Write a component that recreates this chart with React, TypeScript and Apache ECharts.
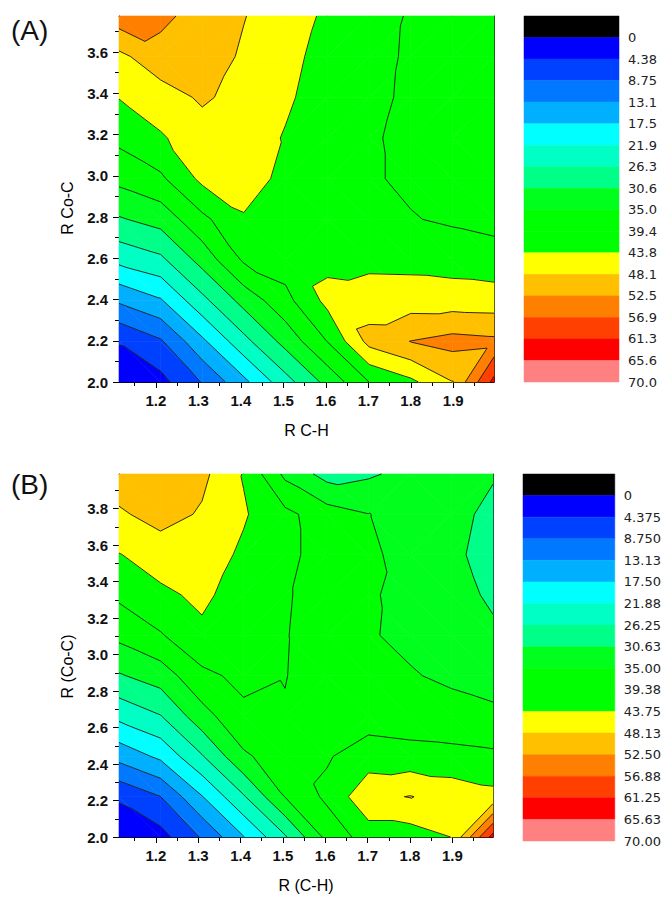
import React, { useEffect, useRef } from "react";
import * as echarts from "echarts";

// ---------- contour levels and palette (from the colour bars) ----------
const levels = [0, 4.375, 8.75, 13.125, 17.5, 21.875, 26.25, 30.625, 35, 39.375, 43.75, 48.125, 52.5, 56.875, 61.25, 65.625, 70];
// band 0 = below 0, band k = levels[k-1]..levels[k]
const bandColors = [
  "#000000", "#0000ff", "#0040ff", "#0078ff", "#00b0ff", "#00ffff", "#00ffc4", "#00ff88",
  "#00ff1c", "#00ff00", "#00ff00", "#ffff00", "#ffc000", "#ff8000", "#ff4000", "#ff0000", "#ff8080",
];
const legendLabelsA = ["0", "4.38", "8.75", "13.1", "17.5", "21.9", "26.3", "30.6", "35.0", "39.4", "43.8", "48.1", "52.5", "56.9", "61.3", "65.6", "70.0"];
const legendLabelsB = ["0", "4.375", "8.750", "13.13", "17.50", "21.88", "26.25", "30.63", "35.00", "39.38", "43.75", "48.13", "52.50", "56.88", "61.25", "65.63", "70.00"];

// ---------- axes ----------
const xMin = 1.113;
const xMax = 1.996;
const xTicksMajor = [1.2, 1.3, 1.4, 1.5, 1.6, 1.7, 1.8, 1.9];
const xTicksMinor = [1.15, 1.25, 1.35, 1.45, 1.55, 1.65, 1.75, 1.85, 1.95];
const yMaxA = 3.775;
const yMaxB = 3.99;
const yTicksMajorA = [2.0, 2.2, 2.4, 2.6, 2.8, 3.0, 3.2, 3.4, 3.6];
const yTicksMinorA = [2.1, 2.3, 2.5, 2.7, 2.9, 3.1, 3.3, 3.5, 3.7];
const yTicksMajorB = [2.0, 2.2, 2.4, 2.6, 2.8, 3.0, 3.2, 3.4, 3.6, 3.8];
const yTicksMinorB = [2.1, 2.3, 2.5, 2.7, 2.9, 3.1, 3.3, 3.5, 3.7, 3.9];

// ---------- data grids ----------
const xGrid = [1.113, 1.211, 1.309, 1.407, 1.505, 1.604, 1.702, 1.8, 1.898, 1.996];
const yGridA = [2.0, 2.197, 2.394, 2.592, 2.789, 2.986, 3.183, 3.381, 3.578, 3.775];
const yGridB = [2.0, 2.221, 2.442, 2.663, 2.884, 3.106, 3.327, 3.548, 3.769, 3.99];

// rows from bottom (R Co-C = 2.0) to top; columns follow xGrid
const valuesA = [
  [2.6, 3.0, 9.0, 16.4, 24.6, 32.0, 39.4, 42.8, 48.0, 62.5],
  [4.55, 8.2, 16.6, 24.9, 32.1, 39.5, 49.5, 52.6, 54.0, 53.4],
  [13.7, 17.0, 25.0, 32.1, 38.0, 45.0, 46.2, 46.1, 46.0, 45.8],
  [23.0, 25.3, 32.2, 40.0, 41.5, 42.8, 42.5, 42.4, 41.9, 41.3],
  [30.2, 32.3, 38.3, 43.3, 42.0, 41.5, 40.5, 39.6, 38.8, 38.0],
  [36.2, 38.6, 44.8, 46.0, 42.5, 40.8, 39.8, 38.7, 37.8, 37.5],
  [40.4, 43.3, 46.0, 45.5, 43.5, 41.5, 39.8, 38.5, 37.8, 37.5],
  [43.9, 46.0, 48.8, 46.5, 44.3, 42.0, 40.2, 38.8, 38.0, 37.8],
  [47.0, 51.0, 50.5, 47.5, 44.8, 42.5, 40.5, 38.9, 38.3, 38.0],
  [55.0, 53.5, 50.8, 48.3, 45.6, 43.1, 41.1, 39.0, 38.5, 38.2],
];
const valuesB = [
  [1.0, 2.8, 9.2, 17.3, 25.75, 36.2, 41.5, 41.5, 43.8, 63.0],
  [5.0, 8.7, 17.3, 25.8, 35.1, 40.3, 47.0, 48.3, 46.5, 45.0],
  [14.6, 18.4, 25.9, 34.3, 37.4, 39.0, 41.5, 41.0, 40.7, 40.2],
  [23.0, 26.06, 33.35, 38.4, 39.1, 37.8, 37.5, 37.0, 36.5, 35.8],
  [30.2, 32.7, 38.3, 40.5, 39.5, 37.5, 36.5, 35.3, 34.3, 33.5],
  [36.1, 39.0, 43.0, 41.0, 39.6, 37.3, 35.3, 34.2, 33.0, 31.5],
  [40.2, 43.0, 44.5, 42.0, 39.8, 37.5, 35.4, 34.0, 32.5, 29.8],
  [43.6, 45.5, 46.0, 43.0, 40.5, 37.5, 35.8, 33.5, 31.5, 29.0],
  [47.4, 50.0, 47.6, 44.2, 40.5, 37.0, 35.1, 33.5, 32.0, 29.5],
  [51.0, 50.5, 49.2, 43.5, 34.0, 29.0, 30.0, 32.0, 32.0, 31.0],
];

// ---------- contour rendering helpers ----------
type P = [number, number, number];

function clipPoly(poly: P[], t: number, keepAbove: boolean): P[] {
  const out: P[] = [];
  const n = poly.length;
  for (let k = 0; k < n; k++) {
    const a = poly[k];
    const b = poly[(k + 1) % n];
    const ina = keepAbove ? a[2] >= t : a[2] <= t;
    const inb = keepAbove ? b[2] >= t : b[2] <= t;
    if (ina) out.push(a);
    if (ina !== inb) {
      const f = (t - a[2]) / (b[2] - a[2]);
      out.push([a[0] + f * (b[0] - a[0]), a[1] + f * (b[1] - a[1]), t]);
    }
  }
  return out;
}

// split each cell along the diagonal with the smaller change of value
function cellTriangles(api: any, xs: number[], ys: number[], vals: number[][], i: number, j: number): P[][] {
  const c = (ii: number, jj: number): P => {
    const p = api.coord([xs[ii], ys[jj]]);
    return [p[0], p[1], vals[jj][ii]];
  };
  const p00 = c(i, j);
  const p10 = c(i + 1, j);
  const p01 = c(i, j + 1);
  const p11 = c(i + 1, j + 1);
  const dSWNE = Math.abs(p00[2] - p11[2]);
  const dSENW = Math.abs(p10[2] - p01[2]);
  if (dSENW <= dSWNE) {
    return [
      [p00, p10, p01],
      [p10, p11, p01],
    ];
  }
  return [
    [p00, p10, p11],
    [p00, p11, p01],
  ];
}

function fillRender(xs: number[], ys: number[], vals: number[][]) {
  return (_params: any, api: any) => {
    const i = api.value(2);
    const j = api.value(3);
    const children: any[] = [];
    for (const tri of cellTriangles(api, xs, ys, vals, i, j)) {
      for (let b = 0; b < bandColors.length; b++) {
        let poly: P[];
        if (b === 0) {
          poly = clipPoly(tri, levels[0], false);
        } else {
          poly = clipPoly(tri, levels[b - 1], true);
          if (poly.length >= 3) poly = clipPoly(poly, levels[b], false);
        }
        if (poly.length >= 3) {
          children.push({
            type: "polygon",
            shape: { points: poly.map((p) => [p[0], p[1]]) },
            style: { fill: bandColors[b], stroke: bandColors[b], lineWidth: 0.6 },
          });
        }
      }
    }
    return { type: "group", children };
  };
}

function lineRender(xs: number[], ys: number[], vals: number[][]) {
  return (_params: any, api: any) => {
    const i = api.value(2);
    const j = api.value(3);
    const children: any[] = [];
    for (const tri of cellTriangles(api, xs, ys, vals, i, j)) {
      for (const L of levels) {
        const pts: number[][] = [];
        for (let k = 0; k < 3; k++) {
          const a = tri[k];
          const b = tri[(k + 1) % 3];
          if ((a[2] - L) * (b[2] - L) < 0) {
            const f = (L - a[2]) / (b[2] - a[2]);
            pts.push([a[0] + f * (b[0] - a[0]), a[1] + f * (b[1] - a[1])]);
          }
        }
        if (pts.length === 2) {
          children.push({
            type: "line",
            shape: { x1: pts[0][0], y1: pts[0][1], x2: pts[1][0], y2: pts[1][1] },
            style: { stroke: "#1a1a1a", lineWidth: 0.9 },
          });
        }
      }
    }
    return { type: "group", children };
  };
}

function cellsOf(xs: number[], ys: number[]) {
  const out: number[][] = [];
  for (let j = 0; j < ys.length - 1; j++) {
    for (let i = 0; i < xs.length - 1; i++) {
      out.push([xs[i], ys[j], i, j]);
    }
  }
  return out;
}

const tickFont = { fontFamily: "Liberation Sans, Arial, sans-serif", fontSize: 15, fontWeight: "bold" as const, color: "#111" };
const nameFont = { fontFamily: "Liberation Sans, Arial, sans-serif", fontSize: 16, color: "#000" };

function panelAxes(g: number, cbGrid: number, xName: string, yName: string, yMax: number, yMajor: number[], yMinor: number[], cbLabels: string[], yNameShift: number) {
  const xAxes = [
    {
      type: "value", gridIndex: g, min: xMin, max: xMax, position: "bottom",
      axisLine: { show: true, onZero: false, lineStyle: { color: "#000", width: 1 } },
      axisTick: { show: true, customValues: xTicksMajor, length: 6, lineStyle: { color: "#000" } },
      axisLabel: { customValues: xTicksMajor, formatter: (v: number) => v.toFixed(1), margin: 11, ...tickFont },
      splitLine: { show: false },
      name: xName, nameLocation: "middle", nameGap: 40, nameTextStyle: nameFont,
    },
    {
      type: "value", gridIndex: g, min: xMin, max: xMax, position: "bottom",
      axisLine: { show: false, onZero: false },
      axisTick: { show: true, customValues: xTicksMinor, length: 4, lineStyle: { color: "#000" } },
      axisLabel: { show: false },
      splitLine: { show: false },
    },
    {
      type: "value", gridIndex: g, min: xMin, max: xMax, position: "top",
      axisLine: { show: true, onZero: false, lineStyle: { color: "#222", width: 1 } },
      axisTick: { show: false }, axisLabel: { show: false }, splitLine: { show: false },
    },
    { type: "value", gridIndex: cbGrid, min: 0, max: 1, show: false },
  ];
  const yAxes = [
    {
      type: "value", gridIndex: g, min: 2.0, max: yMax, position: "left",
      axisLine: { show: true, onZero: false, lineStyle: { color: "#000", width: 1 } },
      axisTick: { show: true, customValues: yMajor, length: 6, lineStyle: { color: "#000" } },
      axisLabel: { customValues: yMajor, formatter: (v: number) => v.toFixed(1), margin: 11, ...tickFont },
      splitLine: { show: false },
      name: yName, nameLocation: "middle", nameGap: 44,
      nameTextStyle: { ...nameFont, padding: [0, yNameShift * 2, 0, 0] },
    },
    {
      type: "value", gridIndex: g, min: 2.0, max: yMax, position: "left",
      axisLine: { show: false, onZero: false },
      axisTick: { show: true, customValues: yMinor, length: 4, lineStyle: { color: "#000" } },
      axisLabel: { show: false },
      splitLine: { show: false },
    },
    {
      type: "value", gridIndex: g, min: 2.0, max: yMax, position: "right",
      axisLine: { show: true, onZero: false, lineStyle: { color: "#222", width: 1 } },
      axisTick: { show: false }, axisLabel: { show: false }, splitLine: { show: false },
    },
    {
      type: "value", gridIndex: cbGrid, min: 0, max: 17, inverse: true, position: "right",
      axisLine: { show: false }, axisTick: { show: false }, splitLine: { show: false },
      axisLabel: {
        customValues: cbLabels.map((_, k) => k + 1),
        formatter: (v: number) => cbLabels[Math.round(v) - 1] ?? "",
        margin: 9, fontFamily: "DejaVu Sans, Verdana, sans-serif", fontSize: 13, color: "#222",
      },
    },
  ];
  return { xAxes, yAxes };
}

function colorbarRender(_params: any, api: any) {
  const k = api.value(1);
  const p0 = api.coord([0, k]);
  const p1 = api.coord([1, k + 1]);
  return {
    type: "rect",
    shape: {
      x: Math.min(p0[0], p1[0]), y: Math.min(p0[1], p1[1]),
      width: Math.abs(p1[0] - p0[0]), height: Math.abs(p1[1] - p0[1]),
    },
    style: { fill: bandColors[k], stroke: bandColors[k], lineWidth: 0.5 },
  };
}

function buildOption() {
  const a = panelAxes(0, 1, "R C-H", "R Co-C", yMaxA, yTicksMajorA, yTicksMinorA, legendLabelsA, 9);
  const b = panelAxes(2, 3, "R (C-H)", "R (Co-C)", yMaxB, yTicksMajorB, yTicksMinorB, legendLabelsB, 11);
  const cbData = bandColors.map((_, k) => [0.5, k]);
  const titleStyle = { fontFamily: "Liberation Sans, Arial, sans-serif", fontSize: 28, fontWeight: "normal", color: "#111" };
  return {
    animation: false,
    backgroundColor: "#ffffff",
    title: [
      { text: "(A)", left: 11, top: 16, padding: 0, textStyle: titleStyle },
      { text: "(B)", left: 11, top: 470, padding: 0, textStyle: titleStyle },
    ],
    grid: [
      { left: 119, top: 16, width: 375, height: 366 },
      { left: 524, top: 16, width: 95, height: 366 },
      { left: 119, top: 474, width: 374, height: 363 },
      { left: 523, top: 474, width: 95, height: 367 },
    ],
    xAxis: [...a.xAxes, ...b.xAxes],
    yAxis: [...a.yAxes, ...b.yAxes],
    series: [
      { type: "custom", name: "A fill", xAxisIndex: 0, yAxisIndex: 0, data: cellsOf(xGrid, yGridA), encode: { x: 0, y: 1 }, renderItem: fillRender(xGrid, yGridA, valuesA), z: 2, silent: true },
      { type: "custom", name: "A lines", xAxisIndex: 0, yAxisIndex: 0, data: cellsOf(xGrid, yGridA), encode: { x: 0, y: 1 }, renderItem: lineRender(xGrid, yGridA, valuesA), z: 3, silent: true },
      { type: "custom", name: "A bar", xAxisIndex: 3, yAxisIndex: 3, data: cbData, encode: { x: 0, y: 1 }, renderItem: colorbarRender, silent: true },
      { type: "custom", name: "B fill", xAxisIndex: 4, yAxisIndex: 4, data: cellsOf(xGrid, yGridB), encode: { x: 0, y: 1 }, renderItem: fillRender(xGrid, yGridB, valuesB), z: 2, silent: true },
      { type: "custom", name: "B lines", xAxisIndex: 4, yAxisIndex: 4, data: cellsOf(xGrid, yGridB), encode: { x: 0, y: 1 }, renderItem: lineRender(xGrid, yGridB, valuesB), z: 3, silent: true },
      { type: "custom", name: "B bar", xAxisIndex: 7, yAxisIndex: 7, data: cbData, encode: { x: 0, y: 1 }, renderItem: colorbarRender, silent: true },
    ],
  };
}

export default function App() {
  const ref = useRef<HTMLDivElement>(null);
  useEffect(() => {
    if (!ref.current) return;
    const chart = echarts.init(ref.current, undefined, { renderer: "svg" });
    chart.setOption(buildOption() as any);
    return () => chart.dispose();
  }, []);
  return (
    <div style={{ position: "absolute", left: 0, top: 0, width: 664, height: 897, background: "#fff" }}>
      <div ref={ref} style={{ width: 664, height: 897 }} />
    </div>
  );
}
